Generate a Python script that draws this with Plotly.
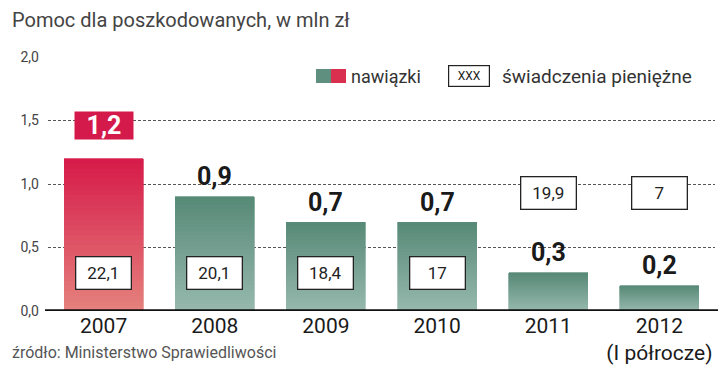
import plotly.graph_objects as go

years = ["2007", "2008", "2009", "2010", "2011", "2012"]
tick_labels = ["2007", "2008", "2009", "2010", "2011", "2012<br>(I półrocze)"]
nawiazki = [1.2, 0.9, 0.7, 0.7, 0.3, 0.2]
swiadczenia = [22.1, 20.1, 18.4, 17, 19.9, 7]
swiadczenia_pos = [0.3, 0.3, 0.3, 0.3, 0.93, 0.93]
y_ticks = [0.0, 0.5, 1.0, 1.5, 2.0]
y_tick_text = ["0,0", "0,5", "1,0", "1,5", "2,0"]

FONT = "Roboto, Liberation Sans Narrow, sans-serif"

def lerp(c1, c2, t):
    return "rgb(%d,%d,%d)" % tuple(round(a + (b - a) * t) for a, b in zip(c1, c2))

green_top, green_bot = (88, 138, 120), (150, 184, 173)
red_top, red_bot = (214, 28, 74), (229, 128, 124)

# plot area in pixels
L, R, T, B = 48, 715, 57, 311
W, H = R - L, B - T
def px(x):
    return (x - L) / W
def py(y):
    return (B - y) / H

fig = go.Figure()
N = 30
for k in range(N):
    t = 1 - k / (N - 1)
    cols = []
    for i in range(len(years)):
        if i == 0:
            cols.append(lerp(red_top, red_bot, t))
        else:
            cols.append(lerp(green_top, green_bot, t))
    fig.add_trace(go.Bar(
        x=years, y=[v / N for v in nawiazki],
        marker=dict(color=cols, line=dict(color=cols, width=0.7)),
        hoverinfo="skip", showlegend=False,
    ))

def fmt(v):
    return ("%g" % v).replace(".", ",")

annotations = []
for i, v in enumerate(nawiazki):
    if i == 0:
        annotations.append(dict(
            x=i, y=v, xref="x", yref="y", text="<b>" + fmt(v) + "</b>",
            showarrow=False, yshift=33, font=dict(family=FONT, size=25, color="white"),
            bgcolor="#d41a4b", borderpad=0, width=58, height=27))
    else:
        annotations.append(dict(
            x=i, y=v, xref="x", yref="y", text="<b>" + fmt(v) + "</b>",
            showarrow=False, yshift=20, font=dict(family=FONT, size=25, color="#1a1a1a")))

for i, (s, p) in enumerate(zip(swiadczenia, swiadczenia_pos)):
    annotations.append(dict(
        x=i, y=p, xref="x", yref="y", text=fmt(s), showarrow=False,
        font=dict(family=FONT, size=17, color="#222"),
        bgcolor="white", bordercolor="#222", borderwidth=1.3, borderpad=2,
        width=50, height=27))

annotations += [
    dict(x=px(10), y=py(20), xref="paper", yref="paper", xanchor="left", yanchor="middle",
         text="Pomoc dla poszkodowanych, w mln zł", showarrow=False,
         font=dict(family=FONT, size=20, color="#444")),
    dict(x=px(349), y=py(76), xref="paper", yref="paper", xanchor="left", yanchor="middle",
         text="nawiązki", showarrow=False, font=dict(family=FONT, size=18, color="#333")),
    dict(x=px(469), y=py(76), xref="paper", yref="paper", xanchor="center", yanchor="middle",
         text="XXX", showarrow=False, font=dict(family=FONT, size=12, color="#222"),
         bgcolor="white", bordercolor="#222", borderwidth=1.2, width=38, height=18),
    dict(x=px(500), y=py(76), xref="paper", yref="paper", xanchor="left", yanchor="middle",
         text="świadczenia pieniężne", showarrow=False,
         font=dict(family=FONT, size=19, color="#333")),
    dict(x=px(10), y=py(352), xref="paper", yref="paper", xanchor="left", yanchor="middle",
         text="źródło: Ministerstwo Sprawiedliwości", showarrow=False,
         font=dict(family=FONT, size=16, color="#555")),
]

shapes = [
    dict(type="rect", xref="paper", yref="paper", x0=px(316), x1=px(331),
         y0=py(83), y1=py(69), fillcolor="#5f8f7f", line=dict(width=0)),
    dict(type="rect", xref="paper", yref="paper", x0=px(331), x1=px(346),
         y0=py(83), y1=py(69), fillcolor="#d9304f", line=dict(width=0)),
    dict(type="line", xref="paper", yref="y", x0=px(45), x1=px(718), y0=0, y1=0,
         line=dict(color="#111", width=3.5)),
]

fig.update_layout(
    width=720, height=382,
    margin=dict(l=L, r=720 - R, t=T, b=382 - B, autoexpand=False),
    paper_bgcolor="white", plot_bgcolor="white",
    barmode="stack", bargap=0.29,
    showlegend=False,
    xaxis=dict(type="category", range=[-0.5, len(years) - 0.5],
               tickmode="array", tickvals=years, ticktext=tick_labels,
               tickfont=dict(family=FONT, size=21, color="#1a1a1a"), tickangle=0,
               showgrid=False, showline=False, ticks="", fixedrange=True, automargin=False),
    yaxis=dict(range=[0, 2.0], tickmode="array", tickvals=y_ticks, ticktext=y_tick_text,
               tickfont=dict(family=FONT, size=14, color="#444"),
               showgrid=True, gridcolor="#555", gridwidth=1, griddash="3px,2px",
               zeroline=False, showline=False, ticks="", ticklabelstandoff=8,
               automargin=False, fixedrange=True),
    shapes=shapes,
    annotations=annotations,
)

fig.write_html("out.html", config={"displayModeBar": False},
               post_script="document.body.style.margin='0';document.body.style.overflow='hidden';")
